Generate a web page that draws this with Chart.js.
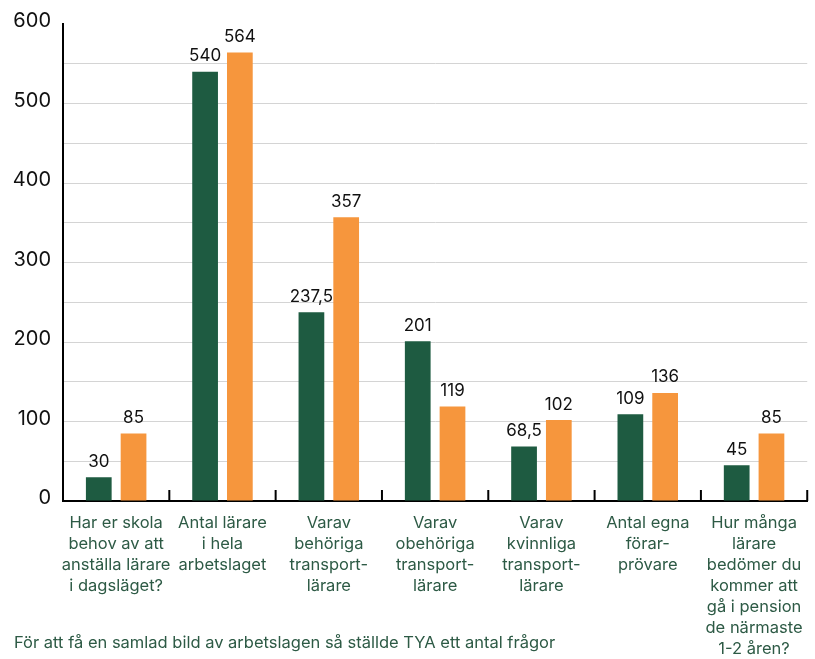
<!DOCTYPE html>
<html>
<head>
<meta charset="utf-8">
<script src="https://cdn.jsdelivr.net/npm/chart.js@4"></script>
<style>
  body { margin: 0; background: #fff; }
  #wrap { position: relative; width: 815px; height: 659px; }
  #note { position: absolute; left: 14px; top: 632px; font: 16.5px Inter, sans-serif; color: #2d5a45; white-space: nowrap; }
</style>
</head>
<body>
<div id="wrap">
  <canvas id="barCanvas" width="815" height="659"></canvas>
  <div id="note">För att få en samlad bild av arbetslagen så ställde TYA ett antal frågor</div>
</div>
<script>
const categories = [
    ['Har er skola', 'behov av att', 'anställa lärare', 'i dagsläget?'],
    ['Antal lärare', 'i hela', 'arbetslaget'],
    ['Varav', 'behöriga', 'transport-', 'lärare'],
    ['Varav', 'obehöriga', 'transport-', 'lärare'],
    ['Varav', 'kvinnliga', 'transport-', 'lärare'],
    ['Antal egna', 'förar-', 'prövare'],
    ['Hur många', 'lärare', 'bedömer du', 'kommer att', 'gå i pension', 'de närmaste', '1-2 åren?']
];
const greenValues = [30, 540, 237.5, 201, 68.5, 109, 45];
const orangeValues = [85, 564, 357, 119, 102, 136, 85];
const yTicks = [0, 100, 200, 300, 400, 500, 600];

const green = '#1e5b41';
const orange = '#f6963d';
const textGreen = '#2d5a45';

// value labels above each bar
const valueLabels = {
    id: 'valueLabels',
    afterDatasetsDraw(chart) {
        const ctx = chart.ctx;
        ctx.save();
        ctx.font = '17px Inter, sans-serif';
        ctx.fillStyle = '#111';
        ctx.textAlign = 'center';
        ctx.textBaseline = 'bottom';
        chart.data.datasets.forEach((ds, i) => {
            chart.getDatasetMeta(i).data.forEach((bar, j) => {
                ctx.fillText(String(ds.data[j]).replace('.', ','), bar.x, bar.y - 7);
            });
        });
        ctx.restore();
    }
};

// small ticks between categories, pointing up from the x axis
const groupTicks = {
    id: 'groupTicks',
    afterDraw(chart) {
        const ctx = chart.ctx;
        const x = chart.scales.x;
        const bottom = chart.chartArea.bottom;
        ctx.save();
        ctx.strokeStyle = '#000';
        ctx.lineWidth = 2;
        for (let i = 1; i <= categories.length; i++) {
            const px = x.getPixelForValue(i - 0.5);
            ctx.beginPath();
            ctx.moveTo(px, bottom);
            ctx.lineTo(px, bottom - 11);
            ctx.stroke();
        }
        ctx.restore();
    }
};

const barCanvas = document.getElementById('barCanvas');

const barChart = new Chart(barCanvas, {
    type: 'bar',
    data: {
        labels: categories,
        datasets: [
            { label: 'Serie 1', data: greenValues, backgroundColor: green },
            { label: 'Serie 2', data: orangeValues, backgroundColor: orange }
        ]
    },
    options: {
        responsive: false,
        animation: false,
        layout: { padding: { top: 17, right: 5 } },
        categoryPercentage: 0.654,
        barPercentage: 0.74,
        plugins: {
            legend: { display: false },
            tooltip: { enabled: false }
        },
        scales: {
            x: {
                grid: { display: false, drawTicks: false },
                border: { color: '#000', width: 2 },
                ticks: {
                    color: textGreen,
                    font: { family: 'Inter, sans-serif', size: 16.5, lineHeight: 1.27 },
                    padding: 12,
                    maxRotation: 0,
                    autoSkip: false
                },
                afterFit(scale) { scale.height = 158; }
            },
            y: {
                min: 0,
                max: 600,
                grid: {
                    drawTicks: false,
                    color: ctx => (ctx.tick && ctx.tick.value === 600) ? 'rgba(0,0,0,0)' : '#d4d4d4',
                    lineWidth: 1
                },
                border: { color: '#000', width: 2 },
                ticks: {
                    stepSize: 50,
                    color: '#111',
                    font: { family: 'Inter, sans-serif', size: 20 },
                    padding: 12,
                    labelOffset: -3,
                    callback: v => yTicks.includes(v) ? v : ''
                },
                afterFit(scale) { scale.width = 63; }
            }
        }
    },
    plugins: [valueLabels, groupTicks]
});
</script>
</body>
</html>
